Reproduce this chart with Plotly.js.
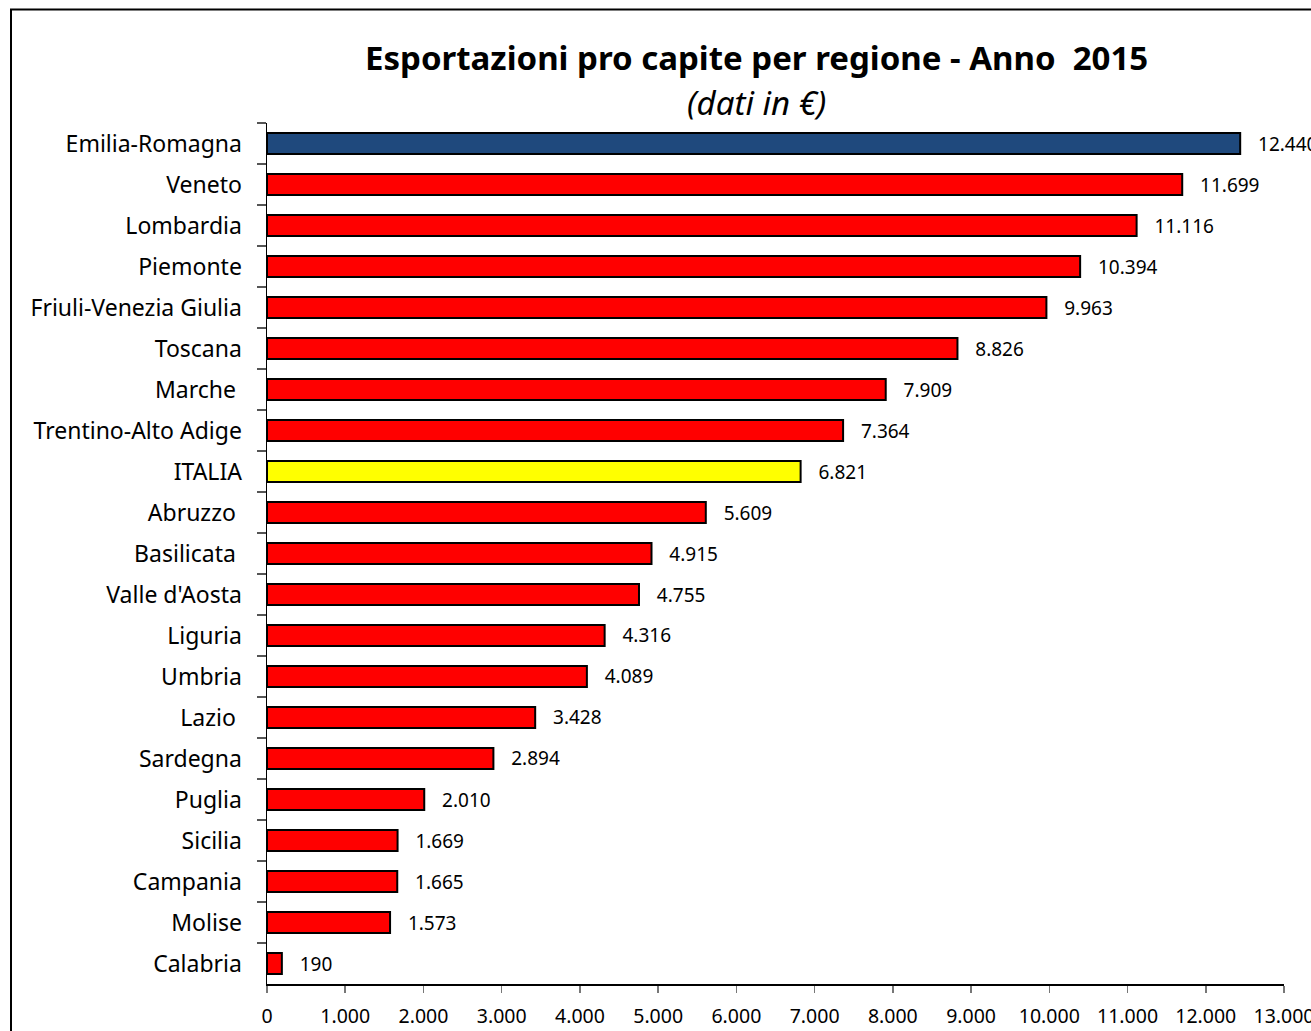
<!DOCTYPE html>
<html><head><meta charset="utf-8">
<script src="https://cdn.plot.ly/plotly-3.0.1.min.js"></script>
<style>html,body{margin:0;padding:0;background:#fff}</style>
</head><body>
<div id="chart" style="width:1311px;height:1031px"></div>
<script>
const regions = ["Emilia-Romagna","Veneto","Lombardia","Piemonte","Friuli-Venezia Giulia","Toscana","Marche ","Trentino-Alto Adige","ITALIA","Abruzzo ","Basilicata ","Valle d'Aosta","Liguria","Umbria","Lazio ","Sardegna","Puglia","Sicilia","Campania","Molise","Calabria"];
const values = [12440,11699,11116,10394,9963,8826,7909,7364,6821,5609,4915,4755,4316,4089,3428,2894,2010,1669,1665,1573,190];
const tickVals = [0,1000,2000,3000,4000,5000,6000,7000,8000,9000,10000,11000,12000,13000];

const colors = regions.map(r => r === "Emilia-Romagna" ? "#1F497D" : (r === "ITALIA" ? "#FFFF00" : "#FF0000"));
const FONT = "'Noto Sans', sans-serif";

const trace = {
  type: "bar", orientation: "h",
  x: values, y: regions,
  marker: {color: colors, line: {color: "#000", width: 2}},
  width: 0.51,
  texttemplate: "   %{x:,}", textposition: "outside",
  constraintext: "none",
  textfont: {family: FONT, size: 19, color: "#000"},
  cliponaxis: false,
  hoverinfo: "skip"
};

const layout = {
  width: 1311, height: 1031,
  margin: {l: 267, r: 27, t: 123, b: 47, pad: 0},
  separators: ",.",
  paper_bgcolor: "#fff", plot_bgcolor: "#fff",
  showlegend: false,
  font: {family: FONT, color: "#000"},
  xaxis: {
    range: [0, 13000], tickvals: tickVals, tickformat: ",",
    showgrid: false, zeroline: false,
    showline: true, linecolor: "#000", linewidth: 1.5,
    ticks: "outside", ticklen: 7, tickcolor: "#777", tickwidth: 1.5,
    tickfont: {size: 19.5, family: FONT},
    ticklabelstandoff: 7, ticklabeloverflow: "allow",
    fixedrange: true
  },
  yaxis: {
    type: "category", autorange: "reversed",
    categoryorder: "array", categoryarray: regions,
    showgrid: false, zeroline: false,
    showline: true, linecolor: "#000", linewidth: 1.5,
    ticks: "outside", tickson: "boundaries", ticklen: 9, tickcolor: "#555", tickwidth: 1.5,
    tickfont: {size: 23, family: FONT},
    ticklabelstandoff: 19,
    fixedrange: true
  },
  bargap: 0.49,
  annotations: [
    {xref: "paper", yref: "paper", x: 0.481, y: (984-58)/861, xanchor: "center", yanchor: "middle",
     text: "<b>Esportazioni pro capite per regione - Anno  2015</b>", showarrow: false,
     font: {size: 33, family: FONT, color: "#000"}},
    {xref: "paper", yref: "paper", x: 0.481, y: (984-103)/861, xanchor: "center", yanchor: "middle",
     text: "<i>(dati in €)</i>", showarrow: false,
     font: {size: 33, family: FONT, color: "#000"}}
  ],
  shapes: [
    {type: "rect", xref: "paper", yref: "paper",
     x0: (11-267)/1017, x1: 1.2, y0: -0.2, y1: (984-9.5)/861,
     line: {color: "#000", width: 2}, fillcolor: "rgba(0,0,0,0)", layer: "above"}
  ]
};

Plotly.newPlot("chart", [trace], layout, {displayModeBar: false, staticPlot: true});
</script>
</body></html>
